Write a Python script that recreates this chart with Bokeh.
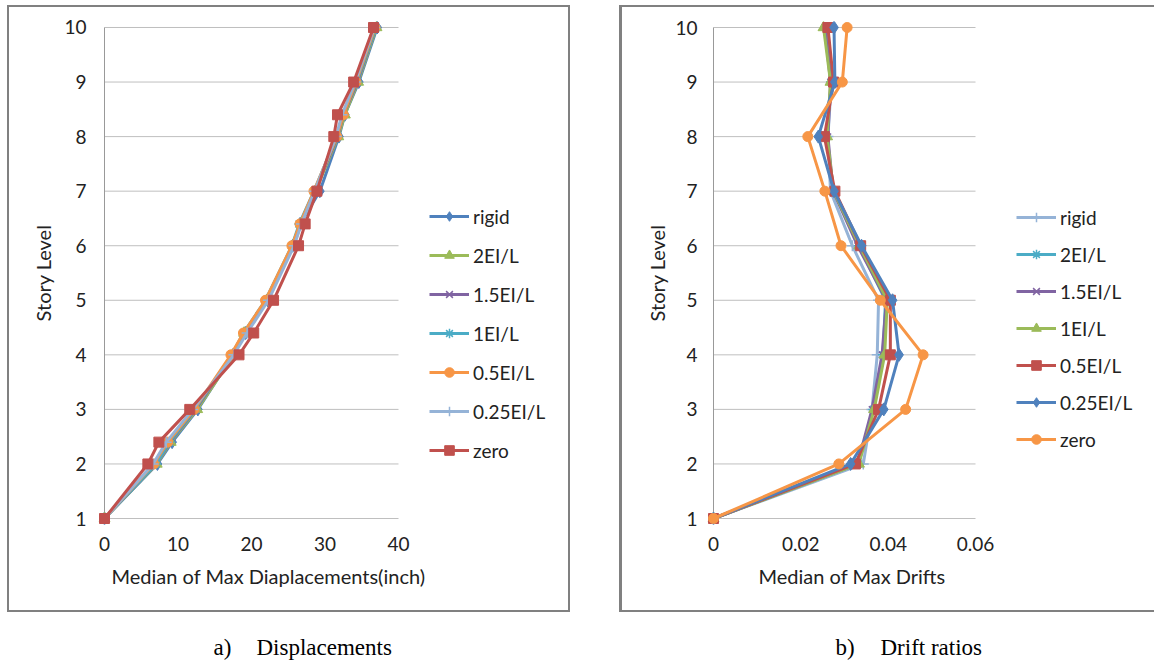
from bokeh.plotting import figure
from bokeh.layouts import row, column
from bokeh.models import Range1d, FixedTicker, Legend, LegendItem, Label, Spacer, Title
from bokeh.embed import file_html
from bokeh.resources import INLINE

FONT = "Lato"
TXT = "#222222"

# ---------------- data: a) displacements ----------------
disp_levels = [1, 2, 2.4, 3, 4, 4.4, 5, 6, 6.4, 7, 8, 8.4, 9, 10]
disp_rigid = [0, 7.2, 9.2, 12.7, 17.5, 19.2, 22.2, 25.6, 26.6, 29.3, 31.9, 32.7, 34.6, 37.1]
disp_2ei = [0, 7.1, 9.0, 12.6, 17.6, 19.0, 22.1, 25.7, 26.7, 28.7, 31.8, 32.7, 34.5, 37.0]
disp_15ei = [0, 7.0, 8.9, 12.4, 17.4, 19.0, 22.0, 25.6, 26.6, 28.6, 31.7, 32.5, 34.4, 36.9]
disp_1ei = [0, 7.0, 8.8, 12.3, 17.3, 18.9, 21.9, 25.5, 26.5, 28.5, 31.6, 32.4, 34.3, 36.9]
disp_05ei = [0, 6.7, 8.6, 12.2, 17.2, 18.9, 21.9, 25.5, 26.6, 28.5, 31.6, 32.5, 34.2, 36.8]
disp_025ei = [0, 6.6, 8.4, 12.0, 17.6, 19.4, 22.3, 25.8, 26.8, 28.6, 31.5, 32.3, 34.1, 36.7]
disp_zero = [0, 5.9, 7.4, 11.6, 18.3, 20.3, 23.0, 26.4, 27.3, 28.9, 31.2, 31.7, 33.9, 36.6]

# ---------------- data: b) drift ratios ----------------
drift_levels = [1, 2, 3, 4, 5, 6, 7, 8, 9, 10]
drift_rigid = [0, 0.0343, 0.0363, 0.0375, 0.0378, 0.0318, 0.0268, 0.0262, 0.0270, 0.0262]
drift_2ei = [0, 0.0332, 0.0366, 0.0388, 0.0394, 0.0333, 0.0275, 0.0258, 0.0270, 0.0258]
drift_15ei = [0, 0.0330, 0.0363, 0.0386, 0.0396, 0.0330, 0.0274, 0.0262, 0.0268, 0.0255]
drift_1ei = [0, 0.0333, 0.0368, 0.0392, 0.0398, 0.0334, 0.0275, 0.0260, 0.0268, 0.0252]
drift_05ei = [0, 0.0325, 0.0378, 0.0405, 0.0405, 0.0337, 0.0278, 0.0254, 0.0275, 0.0262]
drift_025ei = [0, 0.0314, 0.0390, 0.0425, 0.0410, 0.0339, 0.0276, 0.0240, 0.0278, 0.0276]
drift_zero = [0, 0.0287, 0.0440, 0.0480, 0.0382, 0.0292, 0.0255, 0.0216, 0.0295, 0.0306]

names = ["rigid", "2EI/L", "1.5EI/L", "1EI/L", "0.5EI/L", "0.25EI/L", "zero"]
disp_ticks = [0, 10, 20, 30, 40]
drift_ticks = [0, 0.02, 0.04, 0.06]
story_ticks = [1, 2, 3, 4, 5, 6, 7, 8, 9, 10]

BLUE = "#4F81BD"; RED = "#C0504D"; GREEN = "#9BBB59"; PURPLE = "#8064A2"
TEAL = "#4BACC6"; ORANGE = "#F79646"; LBLUE = "#95B3D7"

STYLE = {
    "diamond": dict(marker="diamond", size=13),
    "triangle": dict(marker="triangle", size=11),
    "x": dict(marker="x", size=9),
    "asterisk": dict(marker="asterisk", size=10),
    "circle": dict(marker="circle", size=10),
    "cross": dict(marker="cross", size=11),
    "square": dict(marker="square", size=10),
}

PAD = 6  # px of frame beyond the axis extents so that edge markers are not cut


def make_fig(width, height, axis_x, plot_w, frame_w, top_b, plot_h, xticks, xlabel,
             xlabel_offset, tick_standoff, ylab_standoff, shadow):
    """axis_x: canvas px of the data x-min; plot_w: px between first and last x tick."""
    xmin, xmax = xticks[0], xticks[-1]
    ymin, ymax = story_ticks[0], story_ticks[-1]
    sx = plot_w / (xmax - xmin)
    sy = plot_h / (ymax - ymin)
    x0 = xmin - PAD / sx
    fh = plot_h + 2 * PAD
    left_b = axis_x - PAD
    p = figure(width=width, height=height, output_backend="svg", toolbar_location=None,
               x_range=Range1d(x0, x0 + frame_w / sx),
               y_range=Range1d(ymin - PAD / sy, ymax + PAD / sy),
               min_border_left=left_b, min_border_right=width - left_b - frame_w,
               min_border_top=top_b - PAD, min_border_bottom=height - (top_b - PAD) - fh,
               styles={"box-shadow": shadow})
    p.outline_line_color = None
    p.background_fill_color = "white"
    p.border_fill_color = "white"
    p.grid.visible = False
    # horizontal gridlines spanning exactly the x-axis extent
    p.segment(x0=[xmin] * len(story_ticks), x1=[xmax] * len(story_ticks),
              y0=story_ticks, y1=story_ticks, line_color="#BFBFBF", line_width=1)
    # vertical axis line at x = xmin
    p.segment(x0=[xmin], x1=[xmin], y0=[ymin], y1=[ymax], line_color="#999999", line_width=1)
    p.yaxis.ticker = FixedTicker(ticks=story_ticks)
    p.xaxis.ticker = FixedTicker(ticks=xticks)
    for ax in (p.xaxis[0], p.yaxis[0]):
        ax.axis_line_color = None
        ax.major_tick_line_color = None
        ax.minor_tick_line_color = None
        ax.major_tick_out = 0
        ax.major_tick_in = 0
        ax.minor_tick_out = 0
        ax.minor_tick_in = 0
        ax.major_label_text_font = FONT
        ax.major_label_text_font_size = "19px"
        ax.major_label_text_color = TXT
        ax.axis_label_text_font = FONT
        ax.axis_label_text_font_size = "20px"
        ax.axis_label_text_font_style = "normal"
        ax.axis_label_text_color = TXT
    p.yaxis.axis_label = "Story Level"
    p.yaxis.major_label_standoff = tick_standoff
    p.xaxis.major_label_standoff = 12
    p.yaxis.axis_label_standoff = ylab_standoff
    p.add_layout(Title(text=xlabel, align="left", offset=xlabel_offset, standoff=16,
                       text_font=FONT, text_font_size="20px", text_font_style="normal",
                       text_color=TXT), "below")
    return p


def add_series(p, levels, xs_list, colors, markers):
    items = []
    for name, xs, c, m in zip(names, xs_list, colors, markers):
        lr = p.line(xs, levels, line_color=c, line_width=3)
        st = STYLE[m]
        sr = p.scatter(xs, levels, marker=st["marker"], size=st["size"],
                       fill_color=c, line_color=c,
                       line_width=1.5 if m in ("x", "asterisk", "cross") else 1)
        items.append(LegendItem(label=name, renderers=[lr, sr]))
    return items


def add_legend(p, items, loc, spacing):
    lg = Legend(items=items, location=loc, padding=0, margin=0,
                border_line_color=None, background_fill_alpha=0,
                glyph_width=40, glyph_height=24, label_height=24, spacing=spacing,
                label_standoff=4, label_text_font=FONT, label_text_font_size="19px",
                label_text_color=TXT)
    p.add_layout(lg)


# ---- left panel: canvas at page (9, 7); box 7..570 x 5..612
p1 = make_fig(559, 603, 95, 294, 462, 20, 492, disp_ticks,
              "Median of Max Diaplacements(inch)", 13, 12, 6, "0 0 0 2px #808080")
items1 = add_series(p1, disp_levels,
                    [disp_rigid, disp_2ei, disp_15ei, disp_1ei, disp_05ei, disp_025ei, disp_zero],
                    [BLUE, GREEN, PURPLE, TEAL, ORANGE, LBLUE, RED],
                    ["diamond", "triangle", "x", "asterisk", "circle", "cross", "square"])
add_legend(p1, items1, (331, 62), 15)

# ---- right panel: canvas at page (622, 7); box 620..beyond x 5..612
p2 = make_fig(532, 603, 91, 262, 437, 20, 491, drift_ticks,
              "Median of Max Drifts", 51, 10, 3, "-1px 0 0 2px #808080")
p2.xaxis.major_label_overrides = {0: "0"}
items2 = add_series(p2, drift_levels,
                    [drift_rigid, drift_2ei, drift_15ei, drift_1ei, drift_05ei, drift_025ei, drift_zero],
                    [LBLUE, TEAL, PURPLE, GREEN, RED, BLUE, ORANGE],
                    ["cross", "asterisk", "x", "triangle", "square", "diamond", "circle"])
add_legend(p2, items2, (309, 73), 13)

# ---- captions
cap = figure(width=1154, height=48, output_backend="svg", toolbar_location=None,
             x_range=Range1d(0, 1154), y_range=Range1d(0, 48),
             x_axis_location=None, y_axis_location=None,
             min_border_left=0, min_border_right=0, min_border_top=0, min_border_bottom=0)
cap.outline_line_color = None
cap.grid.visible = False
captions = [("a)", 213), ("Displacements", 256), ("b)", 835), ("Drift ratios", 880)]
for t, x in captions:
    cap.add_layout(Label(x=x, y=14, text=t, text_font="Liberation Serif",
                         text_font_size="23px", text_baseline="middle", text_color="#000000"))

layout = column(Spacer(height=7),
                row(Spacer(width=9), p1, Spacer(width=54), p2),
                Spacer(height=3),
                cap)
open("out.html", "w").write(file_html(layout, INLINE))
